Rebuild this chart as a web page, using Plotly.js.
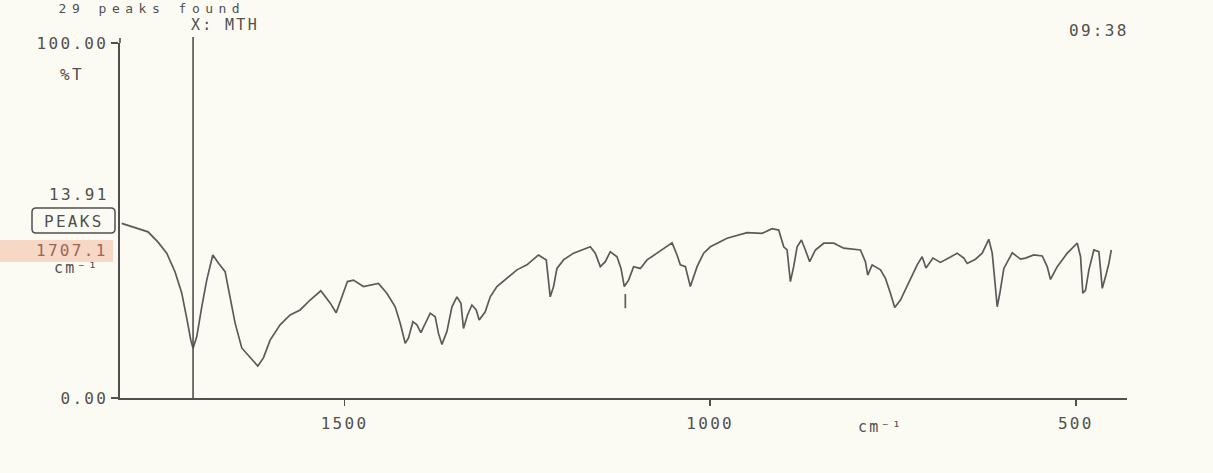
<!DOCTYPE html>
<html>
<head>
<meta charset="utf-8">
<script src="https://cdn.plot.ly/plotly-3.0.1.min.js"></script>
<style>
  html, body { margin: 0; padding: 0; background: #fcfbf3; }
  #chart { width: 1213px; height: 473px; }
  svg text { letter-spacing: 2.3px; }
  g.annotation[data-index="0"] text { letter-spacing: 5.5px; }
</style>
</head>
<body>
<div id="chart"></div>
<script>
// Wavenumbers (cm-1) and % transmittance
const wavenumber = [1804.7,1791.0,1768.7,1755.0,1743.1,1731.7,1722.6,1715.3,1710.2,1707.1,
  1702.0,1695.2,1688.4,1680.1,1672.5,1663.3,1656.5,1649.6,1640.5,1631.4,
  1618.6,1610.9,1601.7,1588.1,1574.4,1560.7,1547.0,1532.4,1519.7,1511.4,
  1503.6,1496.0,1487.8,1474.1,1453.6,1442.1,1430.7,1423.9,1417.0,1412.5,
  1406.5,1401.0,1395.6,1389.7,1382.8,1376.0,1371.5,1366.8,1360.0,1353.1,
  1346.3,1340.8,1337.3,1331.8,1325.8,1319.9,1315.8,1307.6,1300.7,1291.6,
  1277.9,1264.2,1250.5,1234.7,1224.1,1221.0,1218.7,1214.1,1209.5,1200.5,
  1186.8,1163.9,1157.1,1150.2,1143.4,1136.6,1127.4,1121.9,1117.4,1111.5,
  1104.7,1095.5,1086.3,1072.7,1052.1,1045.3,1040.8,1033.9,1027.1,1017.9,
  1008.9,999.7,976.9,949.5,929.0,915.3,906.3,899.4,894.8,890.3,
  885.8,881.1,875.2,869.8,863.9,856.1,844.7,831.0,817.4,794.5,
  787.7,784.5,778.5,767.1,760.3,753.5,747.6,739.8,728.4,716.9,
  710.1,704.9,695.3,685.1,671.4,662.2,653.2,648.5,637.2,628.0,
  619.0,614.3,610.8,607.5,603.9,598.4,586.9,575.6,568.8,557.4,
  545.9,539.1,534.6,525.4,511.7,498.0,493.5,490.4,486.7,482.1,
  475.3,468.5,466.1,463.8,459.3,454.8,451.5];
const transmittance = [49.2,48.3,46.8,43.9,40.8,35.5,29.6,22.0,16.3,14.0,
  17.3,25.7,33.2,40.3,38.0,35.6,28.5,21.1,14.1,12.1,
  9.0,11.3,16.3,20.6,23.4,24.8,27.6,30.2,26.8,24.0,
  28.5,32.8,33.2,31.4,32.3,29.5,25.7,21.1,15.4,16.9,
  21.5,20.6,18.4,21.1,23.9,22.9,18.2,15.1,18.7,25.7,
  28.5,26.7,19.6,23.4,26.2,24.8,22.0,24.3,28.5,31.4,
  33.7,36.1,37.5,40.3,38.9,33.2,28.5,31.4,36.5,38.9,
  40.8,42.6,40.8,37.0,38.4,41.2,39.8,36.5,31.4,33.2,
  37.0,36.5,38.9,40.8,43.7,40.3,37.5,37.0,31.4,37.0,
  40.8,42.6,45.0,46.6,46.4,47.7,47.3,42.6,41.7,32.8,
  37.0,42.6,44.5,41.7,38.4,41.7,43.6,43.6,42.2,41.7,
  38.4,34.6,37.5,36.1,33.7,29.5,25.5,27.6,32.3,37.5,
  39.8,36.6,39.4,38.2,39.7,40.8,39.4,37.9,39.1,40.8,
  44.7,40.8,33.2,25.7,29.5,36.5,40.9,39.1,39.4,40.3,
  40.0,37.0,33.4,37.0,40.8,43.6,39.8,29.5,30.4,36.1,
  41.7,41.2,36.1,30.9,34.2,37.9,41.7];

// Small peak marker stub printed below one band
const markerWavenumber = [1116.0, 1116.0];
const markerTransmittance = [29.3, 25.3];

// Cursor
const cursorWavenumber = 1707.1;
const cursorValue = "13.91";
const cursorLabel = "1707.1";

// Axis ticks
const xTickVals = [1500, 1000, 500];
const xTickText = ["1500", "1000", "500"];
const yTickVals = [0, 100];
const yTickText = ["0.00", "100.00"];

const headerText = "29 peaks found";
const modeText = "X: MTH";
const timeText = "09:38";
const unitText = "cm⁻¹";

const INK = '#505050';
const FONT = 'DejaVu Sans Mono';
const L = 120, R = 1127, T = 43, B = 398;
function px(x) { return (x - L) / (R - L); }
function py(y) { return (B - y) / (B - T); }

function note(text, x, y, opts) {
  return Object.assign({
    text: text, xref: 'paper', yref: 'paper', x: px(x), y: py(y),
    xanchor: 'center', yanchor: 'middle', showarrow: false,
    font: {family: FONT, size: 16, color: INK}
  }, opts || {});
}

const traces = [
  {x: wavenumber, y: transmittance, type: 'scatter', mode: 'lines',
   line: {color: '#5a5a5a', width: 1.7}, hoverinfo: 'skip'},
  {x: markerWavenumber, y: markerTransmittance, type: 'scatter', mode: 'lines',
   line: {color: '#5a5a5a', width: 1.7}, hoverinfo: 'skip'}
];

// rounded box for "PEAKS"
const bx0 = px(32), bx1 = px(115), by0 = py(233), by1 = py(208);
const rx = 4 / (R - L), ry = 4 / (B - T);
const boxPath = `M ${bx0+rx},${by0} L ${bx1-rx},${by0} Q ${bx1},${by0} ${bx1},${by0+ry} L ${bx1},${by1-ry} Q ${bx1},${by1} ${bx1-rx},${by1} L ${bx0+rx},${by1} Q ${bx0},${by1} ${bx0},${by1-ry} L ${bx0},${by0+ry} Q ${bx0},${by0} ${bx0+rx},${by0} Z`;

const layout = {
  width: 1213, height: 473,
  margin: {l: L, r: 1213 - R, t: T, b: 473 - B},
  paper_bgcolor: '#fcfbf3', plot_bgcolor: 'rgba(0,0,0,0)',
  showlegend: false,
  xaxis: {
    range: [1807, 430], showgrid: false, zeroline: false,
    showline: true, linecolor: INK, linewidth: 1.6,
    tickvals: xTickVals, ticktext: xTickText,
    ticks: 'outside', ticklen: 6, tickwidth: 1.4, tickcolor: INK,
    ticklabelstandoff: 4,
    tickfont: {family: FONT, size: 16, color: INK}
  },
  yaxis: {
    range: [0, 100], showgrid: false, zeroline: false,
    showline: true, linecolor: INK, linewidth: 1.6,
    tickvals: yTickVals, ticktext: yTickText,
    ticks: 'outside', ticklen: 7, tickwidth: 1.4, tickcolor: INK,
    ticklabelstandoff: 0,
    tickfont: {family: FONT, size: 16, color: INK}
  },
  shapes: [
    // highlighter band behind cursor position value
    {type: 'rect', xref: 'paper', yref: 'paper', layer: 'below',
     x0: px(0), x1: px(113), y0: py(262), y1: py(240),
     fillcolor: 'rgba(240,165,135,0.42)', line: {width: 0}},
    // cursor line
    {type: 'line', xref: 'x', yref: 'paper', x0: cursorWavenumber, x1: cursorWavenumber,
     y0: 0, y1: py(37), line: {color: INK, width: 1.6}},
    // y axis extension above 100
    {type: 'line', xref: 'paper', yref: 'paper', x0: 0, x1: 0, y0: 1, y1: py(38),
     line: {color: INK, width: 1.6}},
    // PEAKS box
    {type: 'path', xref: 'paper', yref: 'paper', path: boxPath,
     line: {color: INK, width: 1.5}, fillcolor: 'rgba(0,0,0,0)'}
  ],
  annotations: [
    note(headerText, 152, 9, {font: {family: FONT, size: 13, color: INK}}),
    note(modeText, 225, 25, {font: {family: FONT, size: 15, color: INK}}),
    note(timeText, 1099, 30),
    note('%T', 72, 74),
    note(cursorValue, 79, 194),
    note('PEAKS', 74, 221),
    note(cursorLabel, 72, 250, {font: {family: FONT, size: 16, color: '#9c6658'}}),
    note(unitText, 76, 268, {font: {family: FONT, size: 15, color: INK}}),
    note(unitText, 880, 427, {font: {family: FONT, size: 15, color: INK}})
  ]
};

Plotly.newPlot('chart', traces, layout, {displayModeBar: false, staticPlot: true});
</script>
</body>
</html>
